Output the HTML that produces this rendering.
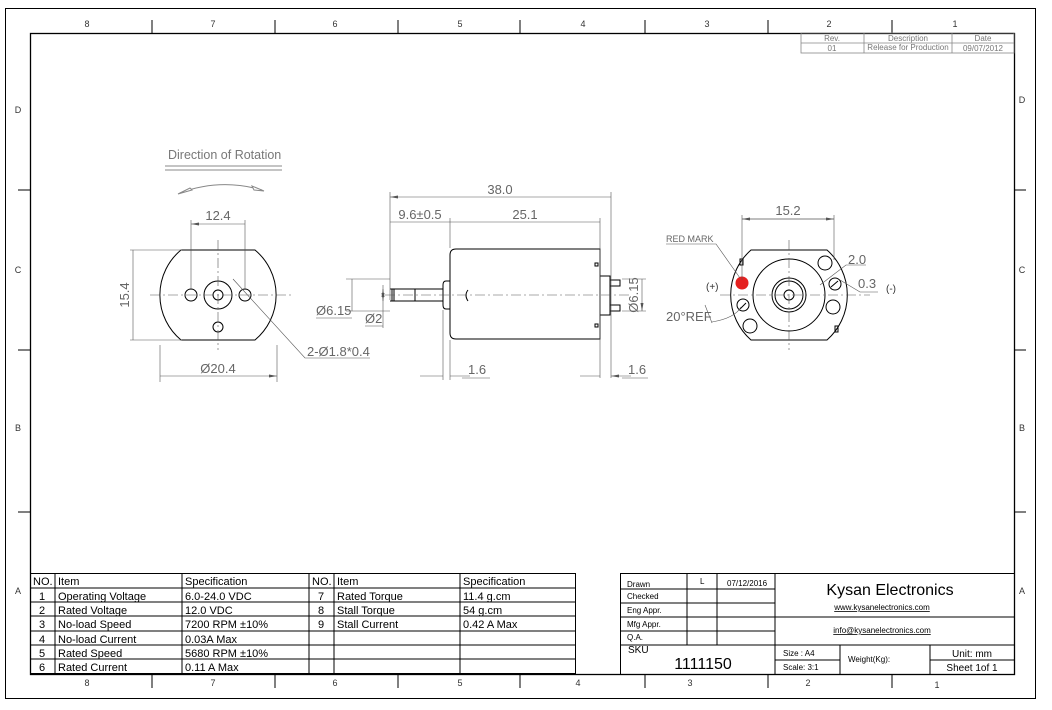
<!DOCTYPE html>
<html><head><meta charset="utf-8"><style>
html,body{margin:0;padding:0;background:#fff}
svg{display:block;font-family:"Liberation Sans",Arial,sans-serif}
.g{fill:#555}
.d{fill:#666;font-size:13px}
</style></head><body>
<svg width="1052" height="710" viewBox="0 0 1052 710">
<defs>
<marker id="a" markerWidth="8" markerHeight="6" refX="8" refY="3" orient="auto-start-reverse" markerUnits="userSpaceOnUse"><path d="M0,1.5L8,3L0,4.5z" fill="#555"/></marker>
</defs>
<rect x="5.5" y="8.5" width="1030" height="690" fill="none" stroke="#000" stroke-width="1"/>
<rect x="30.5" y="33.5" width="984" height="641" fill="none" stroke="#000" stroke-width="1.3"/>
<g stroke="#000" stroke-width="1">
<path d="M152 20V33M275 20V33M398 20V33M520 20V33M645 20V33M768 20V33M892 20V33"/>
<path d="M152 675V688M275 675V688M398 675V688M520 675V688M645 675V688M768 675V688M892 675V688"/>
<path d="M18 190H30M18 350H30M18 512H30M1014 190H1026M1014 350H1026M1014 512H1026"/>
</g>
<g font-size="9" fill="#333" text-anchor="middle">
<text x="87" y="27">8</text><text x="213" y="27">7</text><text x="335" y="27">6</text><text x="460" y="27">5</text><text x="583" y="27">4</text><text x="707" y="27">3</text><text x="829" y="27">2</text><text x="955" y="27">1</text>
<text x="87" y="686">8</text><text x="213" y="686">7</text><text x="335" y="686">6</text><text x="460" y="686">5</text><text x="578" y="686">4</text><text x="690" y="686">3</text><text x="808" y="686">2</text><text x="937" y="688">1</text>
<text x="18" y="113">D</text><text x="18" y="273">C</text><text x="18" y="431">B</text><text x="18" y="594">A</text>
<text x="1022" y="103">D</text><text x="1022" y="273">C</text><text x="1022" y="431">B</text><text x="1022" y="594">A</text>
</g>
<!-- rev table -->
<g stroke="#888" stroke-width="0.8" fill="none">
<rect x="801" y="33" width="213" height="20"/><path d="M801 43H1014M864 33V53M952 33V53"/>
</g>
<g font-size="8" fill="#777" text-anchor="middle">
<text x="832" y="41">Rev.</text><text x="908" y="41">Description</text><text x="983" y="41">Date</text>
<text x="832" y="51">01</text><text x="908" y="50">Release for Production</text><text x="983" y="51">09/07/2012</text>
</g>
<!-- left view -->
<text x="168" y="159" font-size="12.5" fill="#777">Direction of Rotation</text>
<path d="M165 166H282M165 170H282" stroke="#888"/>
<path d="M180 193Q220 178 262 190" stroke="#888" fill="none"/>
<path d="M178 194L190 188L192 190Z M264 191L252 186L254 190Z" stroke="#888" fill="#fff"/>
<g stroke="#000" stroke-width="1" fill="none">
<path d="M181 250H255A58.5 58.5 0 0 1 255 340H181A58.5 58.5 0 0 1 181 250Z"/>
<circle cx="191" cy="295" r="6"/><circle cx="245" cy="295" r="6"/>
<circle cx="218" cy="295" r="14"/><circle cx="218" cy="295" r="5"/><circle cx="218" cy="327" r="5"/>
</g>
<g stroke="#555" stroke-width="0.6" fill="none">
<path d="M150 295H292M218 240V350" stroke-dasharray="10 3 2 3"/>
<path d="M191 220V290M245 220V290M130 250H182M130 340H182M160 345V382M277 345V382"/>
<path d="M191 224H245M133 250V340M160 376H277" marker-start="url(#a)" marker-end="url(#a)"/>
<path d="M233 279L305 358H370"/>
</g>
<text x="218" y="220" class="d" text-anchor="middle">12.4</text>
<text x="129" y="295" class="d" text-anchor="middle" transform="rotate(-90 129 295)">15.4</text>
<text x="218" y="373" class="d" text-anchor="middle">Ø20.4</text>
<text x="307" y="356" class="d">2-Ø1.8*0.4</text>
<!-- middle view -->
<g stroke="#000" stroke-width="1" fill="none">
<path d="M456 249H600V339H456Q450 339 450 333V255Q450 249 456 249Z"/>
<path d="M450 281H446Q443 281 443 285V305Q443 309 446 309H450"/>
<path d="M390 289H443M390 301H443M392 289V301M394 289V301M415 289V301"/>
<path d="M600 276H610V315H600M610 280H620V286H610M610 305H620V311H610"/>
<rect x="595" y="263" width="3" height="3"/><rect x="595" y="324" width="3" height="3"/>
<path d="M468 290Q464 295 468 301"/>
</g>
<g stroke="#555" stroke-width="0.6" fill="none">
<path d="M385 295H630" stroke-dasharray="10 3 2 3"/>
<path d="M390 192V300M450 218V248M600 218V378M611 192V378M443 310V380M450 340V380M383 285V328M346 279H390M346 311H390M622 279H646M622 311H646"/>
<path d="M390 197H611M390 222H450M450 222H600M352 279V311M642 279V311" marker-start="url(#a)" marker-end="url(#a)"/>
<path d="M420 376H443M470 376H450M580 376H600M631 376H611" marker-end="url(#a)"/>
<path d="M316 318H352M365 326H383M462 378H490M622 378H648"/>
<path d="M383 289V301" marker-start="url(#a)" marker-end="url(#a)"/>
</g>
<text x="500" y="194" class="d" text-anchor="middle">38.0</text>
<text x="420" y="219" class="d" text-anchor="middle">9.6±0.5</text>
<text x="525" y="219" class="d" text-anchor="middle">25.1</text>
<text x="316" y="315" class="d">Ø6.15</text>
<text x="365" y="323" class="d">Ø2</text>
<text x="468" y="374" class="d">1.6</text>
<text x="628" y="374" class="d">1.6</text>
<text x="638" y="295" class="d" text-anchor="middle" transform="rotate(-90 638 295)">Ø6.15</text>
<!-- right view -->
<g stroke="#000" stroke-width="1" fill="none">
<path d="M751 250H827A60 60 0 0 1 827 340H751A60 60 0 0 1 751 250Z"/>
<circle cx="789" cy="295" r="36"/><circle cx="789" cy="295" r="17"/><circle cx="789" cy="295" r="14"/><circle cx="789" cy="295" r="5"/>
<circle cx="825" cy="263" r="7"/><circle cx="835" cy="284" r="6"/><circle cx="833" cy="307" r="7"/>
<circle cx="743" cy="305" r="6"/><circle cx="750" cy="326" r="7"/>
<path d="M740 309L746 303M831 287L838 281"/>
<rect x="740" y="259" width="3" height="6"/><rect x="835" y="326" width="3" height="6"/>
</g>
<circle cx="742" cy="283" r="6.5" fill="#e5201f"/>
<g stroke="#555" stroke-width="0.6" fill="none">
<path d="M720 295H870M789 240V350" stroke-dasharray="10 3 2 3"/>
<path d="M742 215V280M834 215V260M742 219H834" />
<path d="M742 219H834" marker-start="url(#a)" marker-end="url(#a)"/>
<path d="M666 244H716L740 278M820 285L846 265H866M840 280L860 292H878M705 305L712 323M712 322Q735 318 741 307"/>
</g>
<text x="666" y="242" font-size="9" fill="#666">RED MARK</text>
<text x="788" y="215" class="d" text-anchor="middle">15.2</text>
<text x="848" y="264" class="d">2.0</text>
<text x="858" y="288" class="d">0.3</text>
<text x="706" y="290" font-size="10" fill="#333">(+)</text>
<text x="886" y="292" font-size="10" fill="#333">(-)</text>
<text x="666" y="321" class="d">20°REF</text>
<!-- spec table -->
<g stroke="#000" stroke-width="1" fill="none">
<rect x="30.5" y="573.5" width="545" height="100"/>
<path d="M30 588H575M30 602H575M30 616H575M30 631H575M30 645H575M30 659H575M55 573V674M182 573V674M309 573V674M334 573V674M460 573V674"/>
</g>
<g font-size="11" fill="#000">
<text x="33" y="585">NO.</text><text x="58" y="585">Item</text><text x="185" y="585">Specification</text>
<text x="312" y="585">NO.</text><text x="337" y="585">Item</text><text x="463" y="585">Specification</text>
<g text-anchor="middle"><text x="42" y="600">1</text><text x="42" y="614">2</text><text x="42" y="628">3</text><text x="42" y="643">4</text><text x="42" y="657">5</text><text x="42" y="671">6</text>
<text x="321" y="600">7</text><text x="321" y="614">8</text><text x="321" y="628">9</text></g>
<text x="58" y="600">Operating Voltage</text><text x="58" y="614">Rated Voltage</text><text x="58" y="628">No-load Speed</text><text x="58" y="643">No-load Current</text><text x="58" y="657">Rated Speed</text><text x="58" y="671">Rated Current</text>
<text x="185" y="600">6.0-24.0 VDC</text><text x="185" y="614">12.0 VDC</text><text x="185" y="628">7200 RPM ±10%</text><text x="185" y="643">0.03A Max</text><text x="185" y="657">5680 RPM ±10%</text><text x="185" y="671">0.11 A Max</text>
<text x="337" y="600">Rated Torque</text><text x="337" y="614">Stall Torque</text><text x="337" y="628">Stall Current</text>
<text x="463" y="600">11.4 g.cm</text><text x="463" y="614">54 g.cm</text><text x="463" y="628">0.42 A Max</text>
</g>
<!-- title block -->
<g stroke="#000" stroke-width="1" fill="none">
<rect x="620.5" y="573.5" width="394" height="101"/>
<path d="M687 573V645M717 573V645M775 573V675M620 589H775M620 603H775M620 617H1014M620 631H775M620 645H1014M840 645V675M930 645V675M775 660H840M930 660H1014"/>
</g>
<g font-size="8" fill="#000">
<text x="627" y="587">Drawn</text><text x="627" y="599">Checked</text><text x="627" y="613">Eng Appr.</text><text x="627" y="627">Mfg Appr.</text><text x="627" y="640">Q.A.</text>
<text x="700" y="584">L</text><text x="727" y="586">07/12/2016</text>
<text x="783" y="656">Size : A4</text><text x="783" y="670">Scale: 3:1</text>
<text x="848" y="662">Weight(Kg):</text>
</g>
<text x="628" y="653" font-size="10">SKU</text>
<text x="703" y="669" font-size="16" text-anchor="middle">1111150</text>
<text x="890" y="595" font-size="16" text-anchor="middle">Kysan Electronics</text>
<text x="882" y="610" font-size="8" text-anchor="middle" text-decoration="underline">www.kysanelectronics.com</text>
<text x="882" y="633" font-size="8" text-anchor="middle" text-decoration="underline">info@kysanelectronics.com</text>
<text x="972" y="657" font-size="10" text-anchor="middle">Unit: mm</text>
<text x="972" y="671" font-size="10" text-anchor="middle">Sheet 1of 1</text>
</svg>
</body></html>
